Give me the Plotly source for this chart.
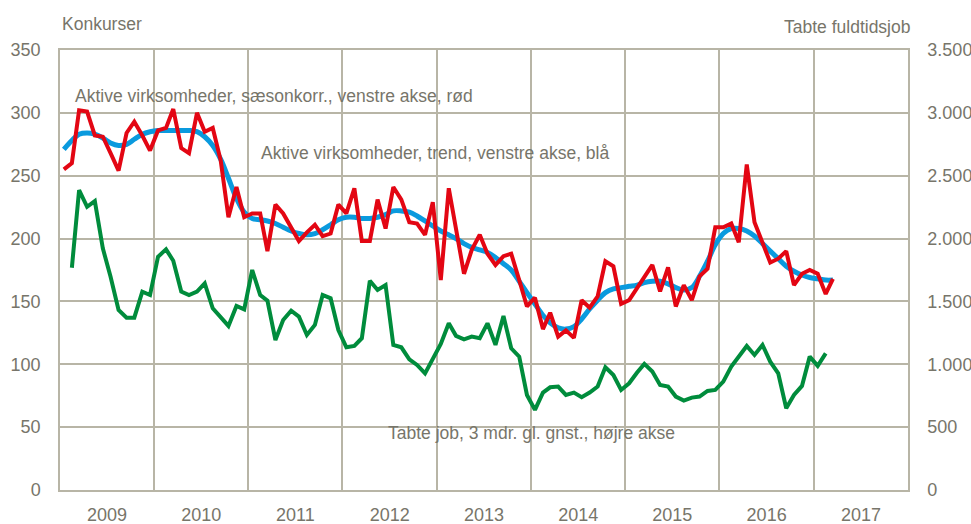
import pandas as pd
import plotly.graph_objects as go

# Monthly observations, Jan 2009 onward
months = pd.date_range("2009-01-01", periods=99, freq="MS") + pd.Timedelta(days=15)

konkurser_saeson = [
    255, 260, 302, 301, 282, 281, 268, 254, 284, 293, 282, 270,
    286, 288, 303, 272, 268, 300, 285, 288, 262, 217, 241, 217,
    220, 220, 190, 227, 220, 208, 198, 205, 211, 202, 204, 227,
    220, 240, 198, 198, 231, 208, 241, 231, 213, 212, 203, 229,
    167, 240, 207, 172, 191, 203, 188, 179, 186, 188, 167, 146,
    153, 128, 141, 122, 127, 121, 151, 145, 154, 182, 178, 148,
    151, 161, 170, 179, 158, 177, 146, 163, 151, 170, 176, 209,
    209, 212, 197, 259, 213, 196, 181, 184, 190, 163, 172, 175,
    172, 156, 168,
]

konkurser_trend = [
    271, 278, 283, 284, 283, 280, 276, 274, 275, 279, 283, 285,
    286, 286, 286, 286, 286, 285, 281, 274, 263, 248, 232, 221,
    216, 215, 214, 212, 209, 206, 204, 203, 204, 207, 211, 215,
    217, 217, 216, 216, 217, 219, 222, 222, 221, 218, 214, 210,
    206, 203, 200, 196, 193, 191, 189, 185, 180, 175, 166, 157,
    148, 139, 133, 129, 128, 130, 136, 144, 151, 157, 160, 161,
    162, 163, 165, 166, 166, 164, 161, 159, 161, 170, 182, 195,
    204, 208, 208, 206, 202, 196, 190, 184, 178, 174, 171, 169,
    168, 167, 167,
]

# Lost full-time jobs, 3-month moving average (starts Feb 2009)
tabte_job = [
    1768, 2385, 2253, 2298, 1922, 1697, 1432, 1371, 1371, 1578, 1551,
    1856, 1914, 1824, 1578, 1551, 1578, 1644, 1445, 1379, 1305, 1464, 1437,
    1750, 1551, 1506, 1193, 1352, 1426, 1379, 1233, 1313, 1551, 1525, 1273,
    1135, 1146, 1207, 1665, 1591, 1630, 1154, 1135, 1040, 995, 928, 1040,
    1162, 1326, 1226, 1199, 1220, 1207, 1326, 1154, 1384, 1127, 1061, 756,
    637, 775, 817, 823, 756, 775, 738, 775, 823, 976, 915, 796,
    849, 934, 1003, 942, 836, 823, 743, 711, 735, 743, 788, 796,
    862, 981, 1061, 1146, 1074, 1154, 1021, 928, 650, 756, 828, 1061,
    987, 1087,
]

year_labels = ["2009", "2010", "2011", "2012", "2013", "2014", "2015", "2016", "2017"]

TXT = "#77756a"
GRID = "#b8b5a6"
RED = "#e30613"
BLUE = "#0a9ade"
GREEN = "#008c3c"
FONT = "Liberation Sans, Arial, sans-serif"

fig = go.Figure()
fig.add_trace(go.Scatter(x=months, y=konkurser_trend, mode="lines",
                         line=dict(color=BLUE, width=5, shape="spline"),
                         name="Aktive virksomheder, trend", yaxis="y"))
fig.add_trace(go.Scatter(x=months, y=konkurser_saeson, mode="lines",
                         line=dict(color=RED, width=4),
                         name="Aktive virksomheder, sæsonkorr.", yaxis="y"))
fig.add_trace(go.Scatter(x=months[1:1 + len(tabte_job)], y=tabte_job, mode="lines",
                         line=dict(color=GREEN, width=4),
                         name="Tabte job", yaxis="y2"))

fig.update_layout(
    width=971, height=524,
    margin=dict(l=60, r=63, t=50, b=34),
    paper_bgcolor="white", plot_bgcolor="white",
    showlegend=False,
    separators=",.",
    font=dict(family=FONT, size=18, color=TXT),
    xaxis=dict(
        type="date", automargin=False,
        range=["2009-01-01", "2018-01-01"],
        tick0="2009-01-01", dtick="M12",
        ticklabelmode="period", tickformat="%Y",
        showgrid=True, gridcolor=GRID, gridwidth=1.5,
        showline=True, linecolor=GRID, linewidth=1.5, mirror=True,
        ticks="outside", ticklen=8, tickcolor="rgba(0,0,0,0)",
        tickfont=dict(size=18, color=TXT),
        zeroline=False,
    ),
    yaxis=dict(
        automargin=False,
        range=[0, 350], dtick=50, tick0=0,
        showgrid=True, gridcolor=GRID, gridwidth=1.5,
        showline=True, linecolor=GRID, linewidth=1.5,
        ticks="outside", ticklen=14, tickcolor="rgba(0,0,0,0)",
        tickfont=dict(size=18, color=TXT),
        zeroline=False,
    ),
    yaxis2=dict(
        automargin=False,
        range=[0, 3500], dtick=500, tick0=0,
        overlaying="y", side="right",
        showgrid=False,
        showline=True, linecolor=GRID, linewidth=1.5,
        ticks="outside", ticklen=14, tickcolor="rgba(0,0,0,0)",
        tickformat=",d",
        tickfont=dict(size=18, color=TXT),
        zeroline=False,
    ),
)

ann_font = dict(family=FONT, size=17.5, color=TXT)
fig.add_annotation(text="Konkurser", xref="paper", yref="paper", x=0.0, y=1.058,
                   xanchor="left", yanchor="middle", showarrow=False, font=ann_font)
fig.add_annotation(text="Tabte fuldtidsjob", xref="paper", yref="paper", x=1.0047, y=1.053,
                   xanchor="right", yanchor="middle", showarrow=False, font=ann_font)
fig.add_annotation(text="Aktive virksomheder, sæsonkorr., venstre akse, rød",
                   xref="paper", yref="paper", x=0.0153, y=0.895,
                   xanchor="left", yanchor="middle", showarrow=False, font=ann_font)
fig.add_annotation(text="Aktive virksomheder, trend, venstre akse, blå",
                   xref="paper", yref="paper", x=0.2347, y=0.766,
                   xanchor="left", yanchor="middle", showarrow=False, font=ann_font)
fig.add_annotation(text="Tabte job, 3 mdr. gl. gnst., højre akse",
                   xref="paper", yref="paper", x=0.385, y=0.1295,
                   xanchor="left", yanchor="middle", showarrow=False, font=ann_font)

fig.write_html("out.html")
